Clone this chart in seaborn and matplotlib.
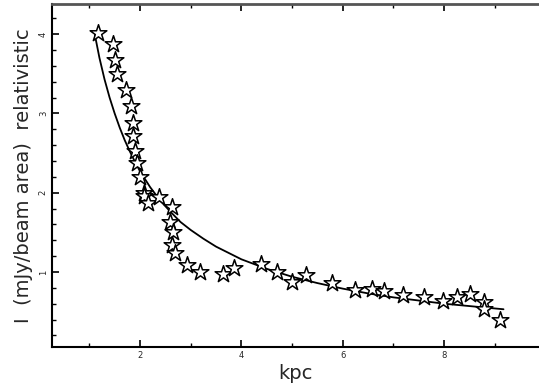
import numpy as np
import pandas as pd
import matplotlib
matplotlib.use("Agg")
import matplotlib.pyplot as plt
import seaborn as sns
from matplotlib.ticker import MultipleLocator

# Observed points (kpc, intensity)
obs_x = [1.18, 1.47, 1.51, 1.55, 1.72, 1.82, 1.87, 1.87, 1.90, 1.95, 1.99, 2.08,
         2.08, 2.16, 2.38, 2.63, 2.59, 2.66, 2.63, 2.69, 2.92, 3.18, 3.63, 3.86,
         4.39, 4.70, 5.00, 5.27, 5.78, 6.25, 6.57, 6.81, 7.19, 7.60, 7.98, 8.25,
         8.51, 8.79, 8.79, 9.10]
obs_y = [4.02, 3.88, 3.67, 3.50, 3.30, 3.09, 2.88, 2.71, 2.52, 2.37, 2.20, 2.00,
         1.96, 1.87, 1.95, 1.82, 1.63, 1.51, 1.34, 1.24, 1.09, 1.00, 0.98, 1.05,
         1.10, 1.00, 0.88, 0.96, 0.86, 0.77, 0.79, 0.76, 0.71, 0.68, 0.63, 0.68,
         0.72, 0.62, 0.53, 0.40]

# Fitted curve
fit_x = [1.11, 1.2, 1.3, 1.4, 1.5, 1.6, 1.7, 1.8, 1.9, 2.0, 2.1, 2.2, 2.4, 2.6, 2.8, 3.0,
         3.25, 3.5, 3.75, 4.0, 4.5, 5.0, 5.5, 6.0, 6.5, 7.0, 7.5, 8.0, 8.5, 9.17]
fit_y = [3.99, 3.70, 3.43, 3.20, 3.00, 2.82, 2.66, 2.52, 2.39, 2.27, 2.17, 2.07, 1.90,
         1.76, 1.63, 1.53, 1.42, 1.32, 1.24, 1.16, 1.04, 0.94, 0.86, 0.79, 0.73,
         0.68, 0.64, 0.60, 0.57, 0.53]

obs = pd.DataFrame({"kpc": obs_x, "I": obs_y})
fit = pd.DataFrame({"kpc": fit_x, "I": fit_y})

sns.set_theme(style="ticks")
plt.rcParams["font.family"] = ["DejaVu Sans"]

fig = plt.figure(figsize=(5.39, 3.91), dpi=100)
ax = fig.add_axes([52/539, 44/391, (539-52)/539, (347-4)/391])

sns.lineplot(data=fit, x="kpc", y="I", ax=ax, color="black", lw=1.3, sort=True)
sns.scatterplot(data=obs, x="kpc", y="I", ax=ax, marker="*", s=160,
                facecolor="white", edgecolor="black", linewidth=1.1, zorder=3)

ax.set_xlim(0.264, 9.87)
ax.set_ylim(0.054, 4.38)

ax.xaxis.set_major_locator(MultipleLocator(2))
ax.xaxis.set_minor_locator(MultipleLocator(1))
ax.yaxis.set_major_locator(MultipleLocator(1))
ax.yaxis.set_minor_locator(MultipleLocator(0.2))
ax.set_xticks([2, 4, 6, 8])
ax.set_yticks([1, 2, 3, 4])

ax.tick_params(which="both", direction="in", top=True, right=False, color="black")
ax.tick_params(which="major", length=5, width=1.2, labelsize=6, pad=3)
ax.tick_params(which="minor", length=3, width=1)
for lab in ax.get_yticklabels():
    lab.set_rotation(90)
    lab.set_va("center")

for s in ["left", "bottom"]:
    ax.spines[s].set_linewidth(1.5)
    ax.spines[s].set_color("black")
ax.spines["top"].set_linewidth(2)
ax.spines["top"].set_color("#555555")
ax.spines["right"].set_visible(False)

ax.set_xlabel("kpc", fontsize=14, labelpad=3)
ax.set_ylabel("I  (mJy/beam area)  relativistic", fontsize=14, labelpad=4)

fig.savefig("out.png", dpi=100)
